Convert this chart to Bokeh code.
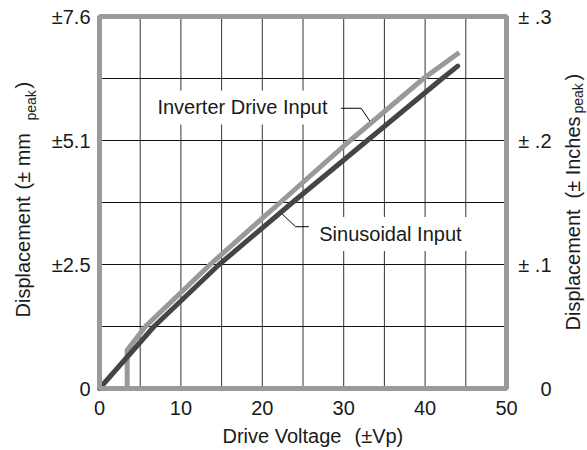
import numpy as np
from bokeh.plotting import figure
from bokeh.models import Label, Range1d
from bokeh.core.properties import value
from bokeh.embed import file_html
from bokeh.resources import INLINE

# ---------------- data ----------------
x_ticks = [0, 10, 20, 30, 40, 50]
x_tick_labels = ["0", "10", "20", "30", "40", "50"]
x_grid_ticks = [5, 10, 15, 20, 25, 30, 35, 40, 45]
y_ticks_in = [0, 0.1, 0.2, 0.3]
y_grid_ticks = [0.05, 0.10, 0.15, 0.20, 0.25]
left_tick_labels = ["0", "±2.5", "±5.1", "±7.6"]
right_tick_labels = ["0", "± .1", "± .2", "± .3"]

# Sinusoidal input: drive voltage (±Vp) vs displacement (± inches peak)
sin_v = [0, 6.7, 14.7, 23.7, 32.9, 42.1, 44.0]
sin_d = [0, 0.05, 0.10, 0.15, 0.20, 0.25, 0.26]
# Inverter drive input
inv_v = [3.4, 3.4, 5.65, 13.6, 22.2, 30.8, 39.8, 44.2]
inv_d = [0, 0.031, 0.05, 0.10, 0.15, 0.20, 0.25, 0.271]

# ---------------- layout ----------------
FONT = "Liberation Sans"
TXT = "#1a1a1a"
W, H = 587, 450
FL, FR, FT, FB = 99, 506, 16, 388          # plot box in canvas pixels
XMAX, YMAX = 50, 0.3
PX_X = (FR - FL) / XMAX
PX_Y = (FB - FT) / YMAX


def X(px):
    return (px - FL) / PX_X


def Y(py):
    return (FB - py) / PX_Y


def dx(px):
    return px / PX_X


def dy(px):
    return px / PX_Y


p = figure(width=W, height=H,
           x_range=Range1d(X(0), X(W)), y_range=Range1d(Y(H), Y(0)),
           x_axis_type=None, y_axis_type=None,
           output_backend="svg", toolbar_location=None,
           min_border=0, min_border_left=0, min_border_right=0,
           min_border_top=0, min_border_bottom=0)
p.outline_line_color = None
p.background_fill_color = "white"
p.border_fill_color = "white"
p.grid.visible = False

# grid
p.segment(x0=x_grid_ticks, y0=[0] * len(x_grid_ticks), x1=x_grid_ticks, y1=[YMAX] * len(x_grid_ticks),
          line_color="#333333", line_width=1)
p.segment(x0=[0] * len(y_grid_ticks), y0=y_grid_ticks, x1=[XMAX] * len(y_grid_ticks), y1=y_grid_ticks,
          line_color="#111111", line_width=1)

# curves
p.line(inv_v, inv_d, line_color="#999999", line_width=5, line_join="miter")
p.line(sin_v, sin_d, line_color="#454545", line_width=5, line_cap="round")

# plot box border
p.quad(left=0, right=XMAX, bottom=0, top=YMAX, fill_color=None,
       line_color="#9a9a9a", line_width=5)

# tick labels
p.text(x=x_ticks, y=[0] * len(x_ticks), text=x_tick_labels, y_offset=19,
       text_align="center", text_baseline="middle", text_font=value(FONT),
       text_font_size=value("20px"), text_color=TXT)
p.text(x=[0] * len(y_ticks_in), y=y_ticks_in, text=left_tick_labels, x_offset=-9,
       text_align="right", text_baseline="middle", text_font=value(FONT),
       text_font_size=value("20px"), text_color=TXT)
p.text(x=[XMAX] * len(y_ticks_in), y=y_ticks_in, text=right_tick_labels, x_offset=45,
       text_align="right", text_baseline="middle", text_font=value(FONT),
       text_font_size=value("20px"), text_color=TXT)

# leader lines (anchored on curves) and curve labels
a_v = 33.2
a_d = float(np.interp(a_v, inv_v, inv_d)) + dy(3)
p.line([a_v - dx(28.6), a_v - dx(8.6), a_v], [a_d + dy(12.7), a_d + dy(12.7), a_d],
       line_color="black", line_width=1)
b_v = 22.45
b_d = float(np.interp(b_v, sin_v, sin_d)) - dy(3)
p.line([b_v, b_v + dx(13.3), b_v + dx(26.6)], [b_d, b_d - dy(12.6), b_d - dy(12.6)],
       line_color="black", line_width=1)

p.add_layout(Label(x=a_v - dx(36.3), y=a_d + dy(13.5), text="Inverter Drive Input",
                   text_align="right", text_baseline="middle", text_font=FONT,
                   text_font_size="20px", text_color=TXT,
                   background_fill_color="white", padding=6))
p.add_layout(Label(x=b_v + dx(31), y=b_d - dy(20), text="Sinusoidal Input",
                   text_align="left", text_baseline="middle", text_font=FONT,
                   text_font_size="20px", text_color=TXT,
                   background_fill_color="white", padding=6))


# axis titles
def htitle(xpx, ypx, txt):
    p.add_layout(Label(x=X(xpx), y=Y(ypx), text=txt,
                       text_align="left", text_baseline="middle", text_font=FONT,
                       text_font_size="20px", text_color=TXT))


htitle(222, 435, "Drive Voltage")
htitle(354, 435, "(±Vp)")


def vtitle(xpx, ypx, txt, size):
    p.add_layout(Label(x=X(xpx), y=Y(ypx), text=txt, angle=np.pi / 2,
                       text_align="left", text_baseline="alphabetic", text_font=FONT,
                       text_font_size=size, text_color=TXT))


vtitle(22, 317, "Displacement", "20px")
vtitle(22, 189, "(± mm", "20px")
vtitle(30, 120, "peak", "14px")
vtitle(22, 88, ")", "20px")

vtitle(572, 330, "Displacement", "20px")
vtitle(572, 198, "(± Inches", "20px")
vtitle(577, 113, "peak", "14px")
vtitle(572, 80, ")", "20px")

open("out.html", "w").write(file_html(p, INLINE))
